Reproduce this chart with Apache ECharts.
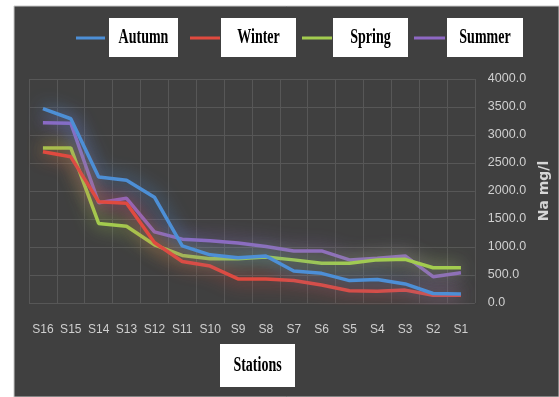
<!DOCTYPE html>
<html>
<head>
<meta charset="utf-8">
<script src="https://cdn.jsdelivr.net/npm/echarts@6/dist/echarts.min.js"></script>
<style>
  html, body { margin: 0; padding: 0; background: #ffffff; }
  #chart { width: 559px; height: 397px; }
</style>
</head>
<body>
<div id="chart"></div>
<script>
// Sodium concentration (mg/l) per station, by season
const stations = ['S16', 'S15', 'S14', 'S13', 'S12', 'S11', 'S10', 'S9', 'S8', 'S7', 'S6', 'S5', 'S4', 'S3', 'S2', 'S1'];
const autumn = [3470, 3290, 2250, 2190, 1890, 1020, 860, 810, 840, 570, 530, 400, 420, 340, 170, 160];
const winter = [2700, 2610, 1810, 1780, 1080, 740, 660, 430, 430, 400, 320, 220, 210, 230, 140, 140];
const spring = [2770, 2770, 1420, 1370, 1040, 850, 790, 790, 820, 770, 710, 710, 770, 780, 630, 630];
const summer = [3220, 3210, 1790, 1870, 1270, 1140, 1110, 1070, 1010, 930, 930, 770, 800, 840, 470, 540];
const seasonNames = ['Autumn', 'Winter', 'Spring', 'Summer'];
const yTicks = { min: 0, max: 4000, interval: 500 };

const colors = ['#4d8fd6', '#e04a3f', '#a3cc4f', '#8e68c4'];
const seriesData = [autumn, winter, spring, summer];

const chart = echarts.init(document.getElementById('chart'));

const labelFont = "'Liberation Sans Narrow', 'Liberation Sans', sans-serif";
const boxFont = "bold 14px 'Liberation Serif', 'Times New Roman', serif";

// Legend: line swatch followed by a white label box
const legendItems = [
  { line: [76, 105], box: [109, 178] },
  { line: [190, 220], box: [221, 296] },
  { line: [302, 332], box: [333, 408] },
  { line: [414, 445], box: [447, 523] }
];
const legendGraphics = [];
legendItems.forEach((it, i) => {
  legendGraphics.push({
    type: 'line', silent: true,
    shape: { x1: it.line[0], y1: 38, x2: it.line[1], y2: 38 },
    style: { stroke: colors[i], lineWidth: 3 }
  });
  legendGraphics.push({
    type: 'rect', silent: true,
    shape: { x: it.box[0], y: 18, width: it.box[1] - it.box[0], height: 39 },
    style: { fill: '#ffffff' }
  });
  legendGraphics.push({
    type: 'text', silent: true,
    x: (it.box[0] + it.box[1]) / 2, y: 38, scaleY: 1.45,
    style: { text: seasonNames[i], x: 0, y: 0, align: 'center', verticalAlign: 'middle', font: boxFont, fill: '#000000' }
  });
});

const option = {
  backgroundColor: '#ffffff',
  animation: false,
  graphic: [
    {
      type: 'rect', silent: true, z: -100,
      shape: { x: 14, y: 6, width: 545, height: 391 },
      style: { fill: '#404040', stroke: '#c8c8c8', lineWidth: 1 }
    },
    ...legendGraphics,
    {
      type: 'rect', silent: true,
      shape: { x: 220, y: 344, width: 75, height: 43 },
      style: { fill: '#ffffff' }
    },
    {
      type: 'text', silent: true,
      x: 257.5, y: 366, scaleY: 1.45,
      style: { text: 'Stations', x: 0, y: 0, align: 'center', verticalAlign: 'middle', font: boxFont, fill: '#000000' }
    }
  ],
  grid: { left: 29, right: 83, top: 79, bottom: 94 },
  xAxis: {
    type: 'category',
    data: stations,
    boundaryGap: true,
    axisLine: { show: false },
    axisTick: { show: false },
    axisLabel: { color: '#cfcfcf', fontFamily: labelFont, fontSize: 12, margin: 21, interval: 0 },
    splitLine: { show: true, lineStyle: { color: '#575757', width: 1 } }
  },
  yAxis: {
    type: 'value',
    position: 'right',
    min: yTicks.min, max: yTicks.max, interval: yTicks.interval,
    name: 'Na mg/l',
    nameLocation: 'middle',
    nameRotate: 90,
    nameGap: 59,
    nameTextStyle: { color: '#d6d6d6', fontFamily: "'DejaVu Sans', sans-serif", fontWeight: 'bold', fontSize: 14 },
    axisLine: { show: false },
    axisTick: { show: false },
    axisLabel: {
      color: '#cfcfcf', fontFamily: labelFont, fontSize: 12.5, margin: 13,
      formatter: v => v.toFixed(1)
    },
    splitLine: { show: true, lineStyle: { color: '#575757', width: 1 } }
  },
  series: seasonNames.map((name, i) => ({
    name: name,
    type: 'line',
    data: seriesData[i],
    symbol: 'none',
    lineStyle: {
      color: colors[i], width: 3.5,
      shadowColor: colors[i], shadowBlur: 18
    },
    itemStyle: { color: colors[i] },
    z: 3 + (3 - i)
  }))
};

chart.setOption(option);
</script>
</body>
</html>
